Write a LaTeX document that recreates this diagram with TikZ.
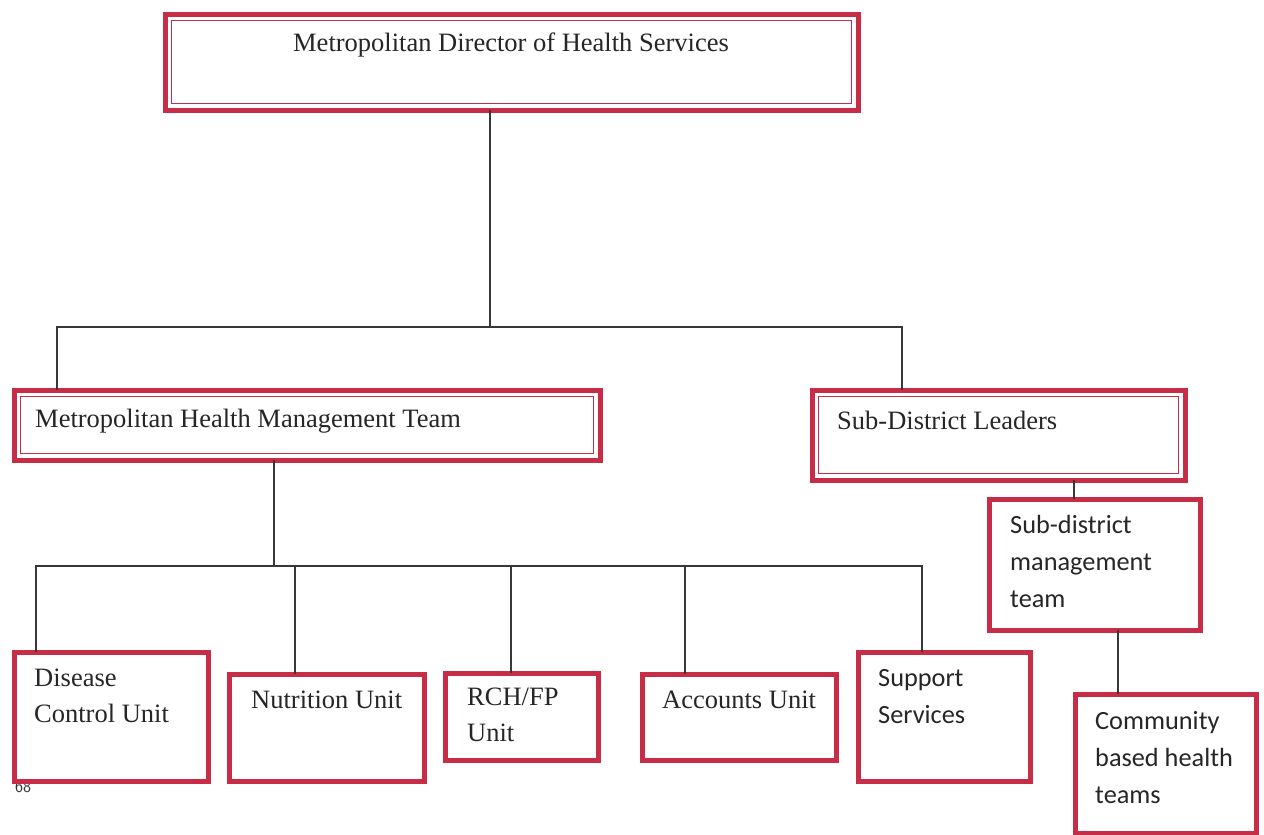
\documentclass[tikz,border=0pt]{standalone}
\usepackage{fontspec}
\setmainfont{Liberation Serif}
\newfontfamily\calib{Carlito}
\usetikzlibrary{calc}
\definecolor{boxred}{RGB}{200,45,72}
\definecolor{linegray}{RGB}{55,55,55}
\tikzset{
  orgbox/.style={draw=boxred, line width=5pt, fill=white, outer sep=0pt, inner sep=0pt, rectangle},
  innerline/.style={draw=boxred, line width=1.6pt},
  conn/.style={draw=linegray, line width=1.7pt},
  serif/.style={font=\fontsize{26.5}{36}\selectfont, anchor=north west, inner sep=0pt, align=left, text=black!85},
  sans/.style={font=\calib\fontsize{26.3}{37}\selectfont, anchor=north west, inner sep=0pt, align=left, text=black!85}
}
\newcommand\mkbox[5]{% name, x1, y1, x2, y2
  \node[orgbox, minimum width={#4-#2}, minimum height={#5-#3}] (#1) at ({(#2+#4)/2},{(#3+#5)/2}) {};}
\begin{document}
\begin{tikzpicture}[x=1pt,y=-1pt]
\useasboundingbox[fill=white] (0,0) rectangle (1264,835);

% junction coordinates
\coordinate (j1) at (490,327);
\coordinate (jl) at (57,327);
\coordinate (jr) at (902,327);
\coordinate (j2) at (274,566);
\coordinate (k1) at (36,566);
\coordinate (k2) at (295,566);
\coordinate (k3) at (511,566);
\coordinate (k4) at (685,566);
\coordinate (k5) at (922,566);

% small page number (partly hidden)
\node[font=\sffamily\fontsize{17}{17}\selectfont, anchor=north west, inner sep=0pt, text=black!80] (pg) at (15,781) {68};

% boxes
\mkbox{top}{165}{14}{858}{110}
\mkbox{mhmt}{14}{390}{600}{460}
\mkbox{sdl}{812}{390}{1185}{480}
\mkbox{smt}{989}{499}{1200}{630}
\mkbox{dcu}{14}{652}{208}{781}
\mkbox{nut}{229}{674}{424}{781}
\mkbox{rch}{445}{673}{598}{760}
\mkbox{acc}{642}{674}{836}{760}
\mkbox{sup}{858}{652}{1030}{781}
\mkbox{cbh}{1075}{694}{1256}{833}

% inner lines of double-bordered boxes
\draw[innerline] ($(top.north west)+(6.5,6.5)$) rectangle ($(top.south east)+(-6.5,-6.5)$);
\draw[innerline] ($(mhmt.north west)+(6.5,6.5)$) rectangle ($(mhmt.south east)+(-6.5,-6.5)$);
\draw[innerline] ($(sdl.north west)+(6.5,6.5)$) rectangle ($(sdl.south east)+(-6.5,-6.5)$);

% texts
\node[serif, anchor=north] (ttop) at (511,33) {Metropolitan Director of Health Services};
\node[serif] (tmhmt) at (35,409) {Metropolitan Health Management Team};
\node[serif] (tsdl) at (837,411) {Sub-District Leaders};
\node[sans] (tsmt) at (1010,515) {Sub-district\\management\\team};
\node[serif] (tdcu) at (34,669) {Disease\\Control Unit};
\node[serif] (tnut) at (251,691) {Nutrition Unit};
\node[serif] (trch) at (467,688) {RCH/FP\\Unit};
\node[serif] (tacc) at (662,691) {Accounts Unit};
\node[sans] (tsup) at (878,669) {Support\\Services};
\node[sans] (tcbh) at (1095,711) {Community\\based health\\teams};

% connectors
\draw[conn] (top.south -| j1) -- (j1);
\draw[conn] (mhmt.north -| jl) -- (jl) -- (jr) -- (sdl.north -| jr);
\draw[conn] (mhmt.south -| j2) -- (j2);
\draw[conn] (dcu.north -| k1) -- (k1) -- (k5) -- (sup.north -| k5);
\draw[conn] (k2) -- (nut.north -| k2);
\draw[conn] (k3) -- (rch.north -| k3);
\draw[conn] (k4) -- (acc.north -| k4);
\coordinate (s1) at (1074,0);
\draw[conn] (sdl.south -| s1) -- (smt.north -| s1);
\coordinate (s2) at (1118,0);
\draw[conn] (smt.south -| s2) -- (cbh.north -| s2);
\end{tikzpicture}
\end{document}
